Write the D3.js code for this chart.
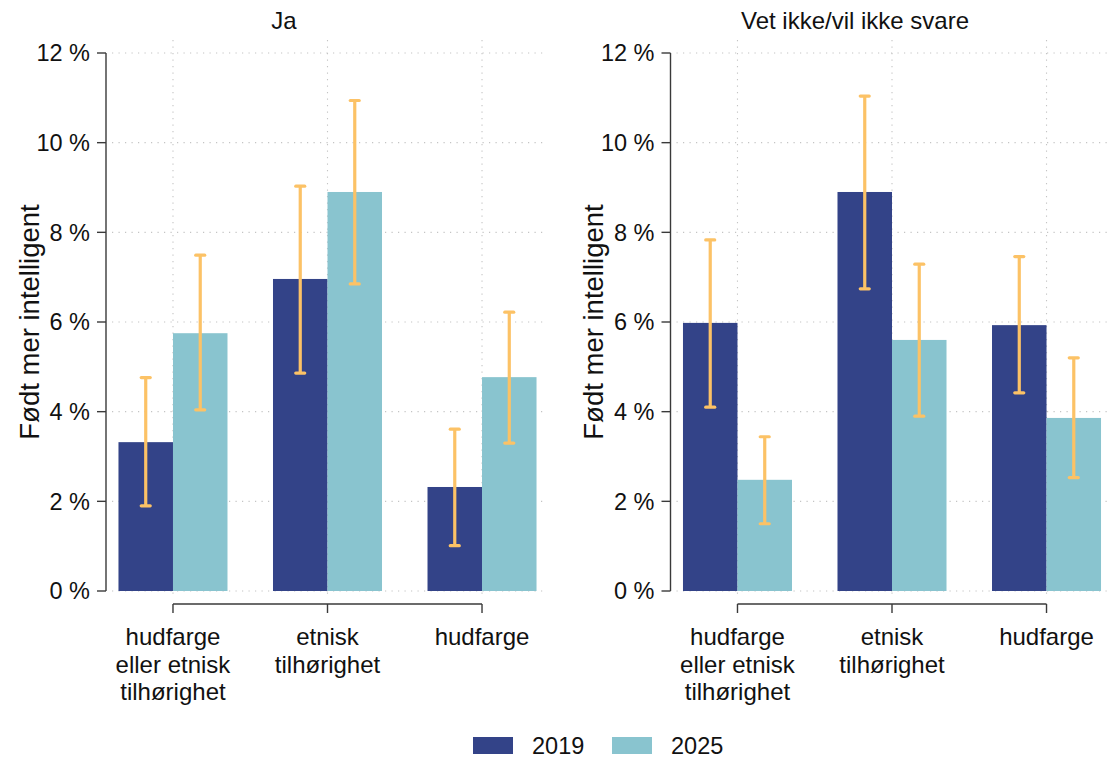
<!DOCTYPE html>
<html>
<head>
<meta charset="utf-8">
<script src="https://cdn.jsdelivr.net/npm/d3@7"></script>
<style>
  html, body { margin: 0; padding: 0; background: #fff; }
  svg { display: block; font-family: "Liberation Sans", Arial, Helvetica, sans-serif; }
</style>
</head>
<body>
<svg id="chart" width="1108" height="758"></svg>
<script>
// ---- Data ----
const categories = ["hudfarge eller etnisk tilhørighet", "etnisk tilhørighet", "hudfarge"];
const categoryLines = [["hudfarge", "eller etnisk", "tilhørighet"], ["etnisk", "tilhørighet"], ["hudfarge"]];
const panelTitles = ["Ja", "Vet ikke/vil ikke svare"];
const years = ["2019", "2025"];
const yTicks = [0, 2, 4, 6, 8, 10, 12];
const yLabel = "Født mer intelligent";

// Panel "Ja"
const ja2019 = [3.32, 6.96, 2.32];
const ja2019Low = [1.90, 4.86, 1.01];
const ja2019High = [4.76, 9.03, 3.61];
const ja2025 = [5.75, 8.90, 4.77];
const ja2025Low = [4.04, 6.85, 3.30];
const ja2025High = [7.49, 10.94, 6.22];

// Panel "Vet ikke/vil ikke svare"
const vet2019 = [5.98, 8.90, 5.93];
const vet2019Low = [4.10, 6.74, 4.42];
const vet2019High = [7.83, 11.04, 7.46];
const vet2025 = [2.48, 5.60, 3.86];
const vet2025Low = [1.50, 3.90, 2.53];
const vet2025High = [3.44, 7.29, 5.20];

const colors = { "2019": "#334388", "2025": "#89C4CF" };
const errColor = "#FCC266";

function rows(v19, l19, h19, v25, l25, h25) {
  const out = [];
  categories.forEach((c, i) => {
    out.push({ cat: c, year: "2019", v: v19[i], lo: l19[i], hi: h19[i] });
    out.push({ cat: c, year: "2025", v: v25[i], lo: l25[i], hi: h25[i] });
  });
  return out;
}
const panelData = [
  rows(ja2019, ja2019Low, ja2019High, ja2025, ja2025Low, ja2025High),
  rows(vet2019, vet2019Low, vet2019High, vet2025, vet2025Low, vet2025High)
];

// ---- Layout ----
const svg = d3.select("#chart");
const y = d3.scaleLinear().domain([0, 12]).range([591, 53]);
const panelLeft = [108, 672.5];
const panelWidth = 439;
const titleX = [284, 855];
const yLabelX = [29, 593.5];

panelTitles.forEach((title, p) => {
  const left = panelLeft[p];
  const g = svg.append("g");
  const x = d3.scaleBand().domain(categories).range([left, left + panelWidth])
    .paddingInner(0.2945).paddingOuter(0.0678);
  const xs = d3.scaleBand().domain(years).range([0, x.bandwidth()]);
  const center = c => x(c) + x.bandwidth() / 2;

  // grid
  g.selectAll(".hgrid").data(yTicks).join("line")
    .attr("x1", left + 4).attr("x2", left + panelWidth - 1)
    .attr("y1", d => y(d)).attr("y2", d => y(d))
    .attr("stroke", "#c4c4c4").attr("stroke-width", 1.1).attr("stroke-dasharray", "1.2,5.3");
  g.selectAll(".vgrid").data(categories).join("line")
    .attr("x1", d => center(d)).attr("x2", d => center(d))
    .attr("y1", 40).attr("y2", 598)
    .attr("stroke", "#c4c4c4").attr("stroke-width", 1.1).attr("stroke-dasharray", "1.2,5.3");

  // bars
  const data = panelData[p];
  g.selectAll(".bar").data(data).join("rect")
    .attr("x", d => x(d.cat) + xs(d.year))
    .attr("width", xs.bandwidth())
    .attr("y", d => y(d.v))
    .attr("height", d => y(0) - y(d.v))
    .attr("fill", d => colors[d.year]);

  // error bars
  const eb = g.selectAll(".err").data(data).join("g");
  const ex = d => x(d.cat) + xs(d.year) + xs.bandwidth() / 2;
  eb.append("line")
    .attr("x1", ex).attr("x2", ex)
    .attr("y1", d => y(d.lo)).attr("y2", d => y(d.hi))
    .attr("stroke", errColor).attr("stroke-width", 3.2);
  ["lo", "hi"].forEach(k => {
    eb.append("line")
      .attr("x1", d => ex(d) - 4.5).attr("x2", d => ex(d) + 4.5)
      .attr("y1", d => y(d[k])).attr("y2", d => y(d[k]))
      .attr("stroke", errColor).attr("stroke-width", 3.2).attr("stroke-linecap", "round");
  });

  // y axis
  const axX = left - 2;
  g.append("line").attr("x1", axX).attr("x2", axX).attr("y1", y(12)).attr("y2", y(0))
    .attr("stroke", "#3a3a3a").attr("stroke-width", 1.4);
  g.selectAll(".ytick").data(yTicks).join("line")
    .attr("x1", axX - 9).attr("x2", axX).attr("y1", d => y(d)).attr("y2", d => y(d))
    .attr("stroke", "#3a3a3a").attr("stroke-width", 1.4);
  g.selectAll(".ylab").data(yTicks).join("text")
    .attr("x", axX - 16).attr("y", d => y(d)).attr("dy", "0.36em")
    .attr("text-anchor", "end").attr("font-size", 23.5).attr("fill", "#111")
    .text(d => d + " %");

  // x axis
  const axY = 604;
  g.append("line").attr("x1", center(categories[0])).attr("x2", center(categories[categories.length - 1]))
    .attr("y1", axY).attr("y2", axY).attr("stroke", "#3a3a3a").attr("stroke-width", 1.4);
  g.selectAll(".xtick").data(categories).join("line")
    .attr("x1", d => center(d)).attr("x2", d => center(d))
    .attr("y1", axY).attr("y2", axY + 9).attr("stroke", "#3a3a3a").attr("stroke-width", 1.4);
  categories.forEach((c, i) => {
    const t = g.append("text").attr("text-anchor", "middle").attr("font-size", 24).attr("fill", "#111");
    categoryLines[i].forEach((ln, j) => {
      t.append("tspan").attr("x", center(c)).attr("y", 645 + j * 27.5).text(ln);
    });
  });

  // y label
  g.append("text")
    .attr("transform", `translate(${yLabelX[p]},${(y(0) + y(12)) / 2}) rotate(-90)`)
    .attr("text-anchor", "middle").attr("dy", "0.36em")
    .attr("font-size", 27.5).attr("fill", "#111").text(yLabel);

  // title
  g.append("text").attr("x", titleX[p]).attr("y", 29)
    .attr("text-anchor", "middle").attr("font-size", 24).attr("fill", "#111").text(title);
});

// legend
const legX = [473, 612];
const leg = svg.append("g");
years.forEach((yr, i) => {
  leg.append("rect").attr("x", legX[i]).attr("y", 737).attr("width", 40).attr("height", 17)
    .attr("fill", colors[yr]);
  leg.append("text").attr("x", legX[i] + 59).attr("y", 754)
    .attr("font-size", 23.5).attr("fill", "#111").text(yr);
});
</script>
</body>
</html>
